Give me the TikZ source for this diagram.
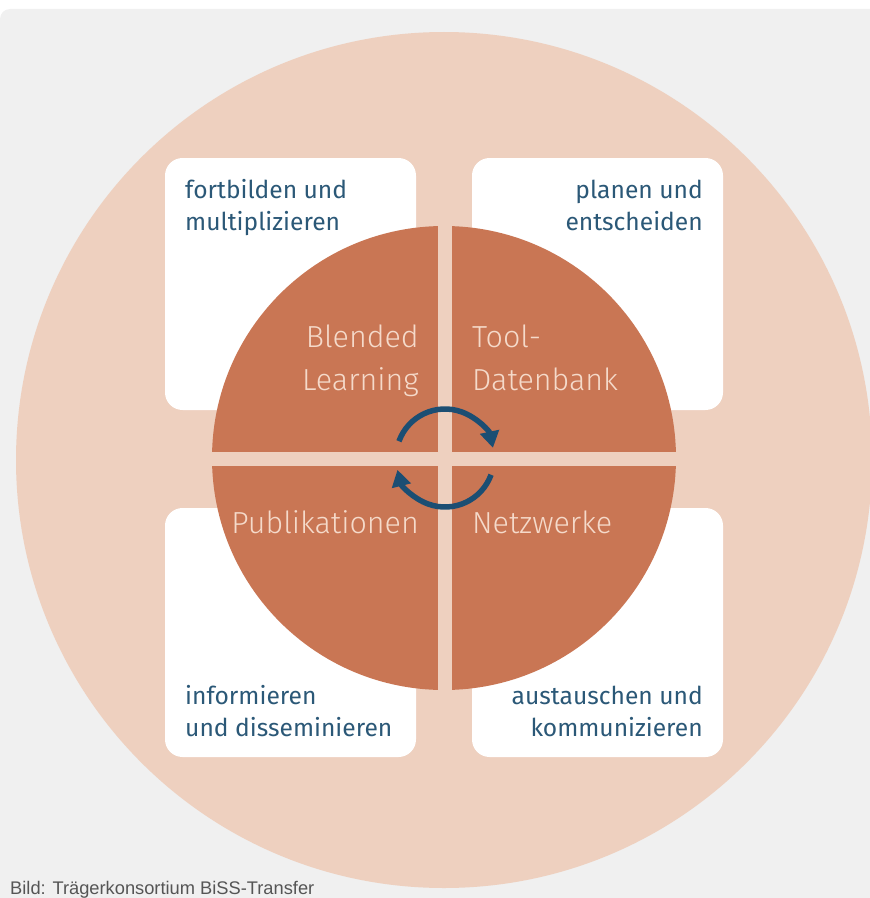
\documentclass[tikz,border=0pt]{standalone}
\usepackage{fontspec}
\setmainfont{Fira Sans}
\newfontfamily\thinfont{Fira Sans Light}
\newfontfamily\capfont{Liberation Sans}
\usetikzlibrary{arrows.meta}

\definecolor{bggray}{RGB}{240,240,240}
\definecolor{peach}{RGB}{238,208,191}
\definecolor{rust}{RGB}{201,118,84}
\definecolor{quadlight}{RGB}{245,218,202}
\definecolor{boxblue}{RGB}{43,88,119}
\definecolor{arrowblue}{RGB}{27,78,115}
\definecolor{capgray}{RGB}{85,85,85}

\begin{document}
\begin{tikzpicture}[x=0.03cm,y=-0.03cm,
  field/.style={fill=white,rounded corners=15pt},
  boxtext/.style={text=boxblue,inner sep=0pt,align=left,font=\fontsize{21}{27.3}\selectfont},
  quadtext/.style={text=quadlight,inner sep=0pt,font=\thinfont\fontsize{26}{36}\selectfont},
  cyclearrow/.style={draw=arrowblue,line width=4.7pt,-{Triangle[length=14pt,width=16pt]}}]
\useasboundingbox (0,0) rectangle (870,898);

% background and outer disc
\fill[bggray] (0,898) -- (0,19) arc[start angle=180,end angle=270,radius=10] -- (870,9) -- (870,898) -- cycle;
\coordinate (hub) at (445,458);
\fill[peach] (444,460) circle[radius=428];

% the four fields
\fill[field] (165,158) rectangle (416,410);
\fill[field] (472,158) rectangle (723,410);
\fill[field] (165,508) rectangle (416,757);
\fill[field] (472,508) rectangle (723,757);

% inner disc cut into quarters
\fill[rust] (444,458) circle[radius=232];
\fill[peach] (438,224) rectangle (452,692);
\fill[peach] (210,452) rectangle (678,466);

% field texts (base = last line)
\node[boxtext,anchor=base west] (fortbilden) at (185,230) {fortbilden und\\multiplizieren};
\node[boxtext,anchor=base east,align=right] (planen) at (703,230) {planen und\\entscheiden};
\node[boxtext,anchor=base west] (informieren) at (185,736) {informieren\\und disseminieren};
\node[boxtext,anchor=base east,align=right] (austauschen) at (703,736) {austauschen und\\kommunizieren};

% quarter texts
\node[quadtext,anchor=base east,align=right] (blended) at (419,390) {Blended\\Learning};
\node[quadtext,anchor=base west,align=left] (tool) at (472,390) {Tool-\\Datenbank};
\node[quadtext,anchor=base east] (publikationen) at (419,533) {Publikationen};
\node[quadtext,anchor=base west] (netzwerke) at (472,533) {Netzwerke};

% cycle arrows
\draw[cyclearrow] (hub) ++(-160:49) arc[start angle=-160,end angle=-12,radius=49];
\draw[cyclearrow] (hub) ++(20:49) arc[start angle=20,end angle=166,radius=49];

\node[anchor=base west,inner sep=0pt,text=capgray,font=\capfont\fontsize{15.6}{18}\selectfont] (credit) at (10,894) {Bild: Trägerkonsortium BiSS-Transfer};
\end{tikzpicture}
\end{document}
